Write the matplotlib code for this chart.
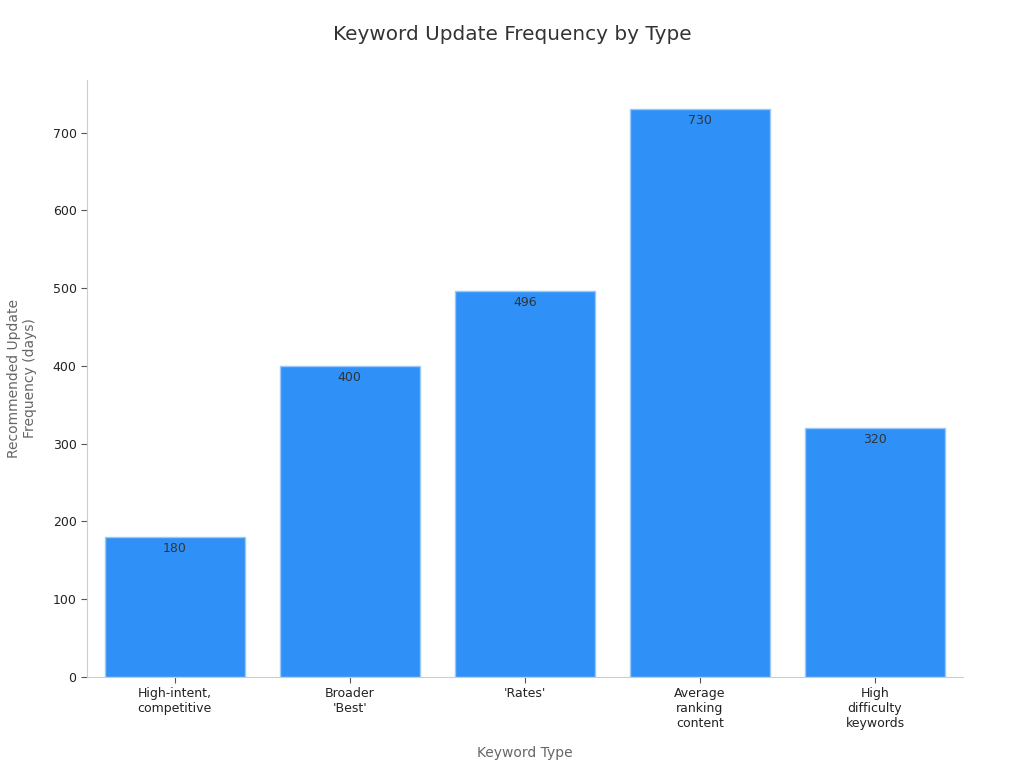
import matplotlib.pyplot as plt

categories = [
    "High-intent,\ncompetitive",
    "Broader\n'Best'",
    "'Rates'",
    "Average\nranking\ncontent",
    "High\ndifficulty\nkeywords",
]
days = [180, 400, 496, 730, 320]

fig = plt.figure(figsize=(10.24, 7.68), dpi=100)
ax = fig.add_axes([0.085, 0.1185, 0.855, 0.7775])

x = list(range(len(categories)))
bars = ax.bar(x, days, width=0.8, color="#2f91f7", edgecolor="#9cc8f7", linewidth=1)

for xi, v in zip(x, days):
    ax.text(xi, v - 6, str(v), ha="center", va="top", fontsize=9, color="#333333")

ax.set_xlim(-0.5, 4.5)
ax.set_ylim(0, 768)
ax.set_xticks(x)
ax.set_xticklabels(categories, fontsize=9, color="#222222")
ax.set_yticks([0, 100, 200, 300, 400, 500, 600, 700])
ax.tick_params(axis="y", labelsize=9, colors="#222222")
ax.tick_params(color="#555555", length=4)

for s in ["top", "right"]:
    ax.spines[s].set_visible(False)
for s in ["left", "bottom"]:
    ax.spines[s].set_color("#cccccc")

ax.set_xlabel("Keyword Type", fontsize=10, color="#666666", labelpad=11)
ax.set_ylabel("Recommended Update\nFrequency (days)", fontsize=10, color="#666666", labelpad=11)
fig.suptitle("Keyword Update Frequency by Type", fontsize=14.4, color="#333333", y=0.968)

fig.savefig("out.png", dpi=100)
